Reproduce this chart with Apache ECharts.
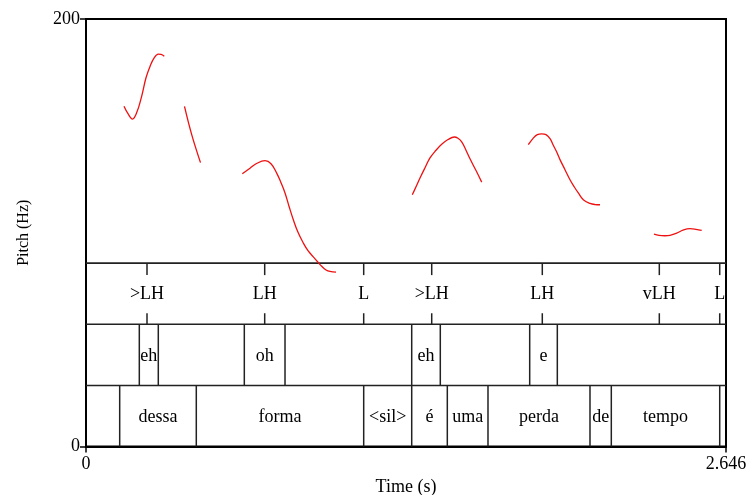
<!DOCTYPE html>
<html>
<head>
<meta charset="utf-8">
<script src="https://cdn.jsdelivr.net/npm/echarts@6/dist/echarts.min.js"></script>
<style>
html,body{margin:0;padding:0;background:#fff;}
#chart{width:748px;height:495px;}
</style>
</head>
<body>
<div id="chart"></div>
<script>
// ---- Axis ranges ----
const timeMax = 2.646;
const pitchMax = 200;
const xTickLabels = ['0', '2.646'];
const yTickLabels = ['0', '200'];

// ---- Pitch contour segments [time (s), pitch (Hz)] ----
const pitchSeg1 = [[0.1571,159.2],[0.1736,155.7],[0.1922,153.2],[0.2109,156.6],[0.2295,163.6],[0.2481,172.5],[0.2646,177.8],[0.2811,181.7],[0.2989,183.6],[0.3101,183.5],[0.3237,182.6]];
const pitchSeg2 = [[0.4072,159.1],[0.4370,145.9],[0.4734,132.8]];
const pitchSeg3 = [[0.6462,127.6],[0.6780,130.2],[0.7070,132.5],[0.7401,133.7],[0.7649,132.3],[0.7884,127.9],[0.8062,123.4],[0.8228,118.6],[0.8393,112.4],[0.8571,106.1],[0.8765,100.2],[0.8984,95.2],[0.9178,91.6],[0.9398,88.7],[0.9592,86.2],[0.9745,84.3],[0.9923,82.6],[1.0088,81.9],[1.0336,81.6]];
const pitchSeg4 = [[1.3491,117.8],[1.3644,121.5],[1.3809,125.6],[1.4016,130.4],[1.4222,135.0],[1.4470,138.6],[1.4706,141.4],[1.4967,143.6],[1.5227,144.8],[1.5380,144.2],[1.5533,142.5],[1.5711,138.6],[1.5876,134.6],[1.6125,129.1],[1.6360,123.7]];
const pitchSeg5 = [[1.8287,141.2],[1.8493,144.3],[1.8659,145.9],[1.8841,146.3],[1.9018,145.9],[1.9184,144.0],[1.9321,140.9],[1.9461,137.8],[1.9597,134.2],[1.9804,129.5],[2.0010,124.8],[2.0189,121.4],[2.0354,118.6],[2.0561,115.4],[2.0837,113.7],[2.1044,113.2],[2.1251,113.1]];
const pitchSeg6 = [[2.3483,99.4],[2.3690,98.8],[2.3938,98.6],[2.4145,98.8],[2.4422,99.8],[2.4682,101.2],[2.4972,101.9],[2.5220,101.6],[2.5455,101.1]];
const pitchSegments = [pitchSeg1, pitchSeg2, pitchSeg3, pitchSeg4, pitchSeg5, pitchSeg6];

// ---- TextGrid tiers ----
// tier band edges on the pitch axis (bottom of tier 3 .. top of tier 1)
const tierEdges = [0, 28.55, 57.2, 85.8];

// Tier 1: point tier (tones)
const toneTimes = [0.2522, 0.7388, 1.1481, 1.4293, 1.8865, 2.3703, 2.6200];
const toneLabels = ['>LH', 'LH', 'L', '>LH', 'LH', 'vLH', 'L'];

// Tier 2: interval tier
const tier2Bounds = [0.2204, 0.2989, 0.6545, 0.8228, 1.3466, 1.4648, 1.8344, 1.9486];
const tier2Labels = ['', 'eh', '', 'oh', '', 'eh', '', 'e', ''];

// Tier 3: interval tier (words)
const tier3Bounds = [0.1393, 0.4560, 1.1481, 1.3466, 1.4938, 1.6620, 2.0837, 2.1718, 2.6200];
const tier3Labels = ['', 'dessa', 'forma', '<sil>', 'é', 'uma', 'perda', 'de', 'tempo', ''];

// ---- build helpers ----
const FONT = '"Liberation Serif", "Times New Roman", serif';
const LINE_COLOR = '#222';
const TIER_FONT = '18px ' + FONT;

function intervals(bounds, labels) {
  const edges = [0].concat(bounds, [timeMax]);
  const out = [];
  for (let i = 0; i < labels.length; i++) {
    if (labels[i] !== '') out.push([edges[i], edges[i + 1], labels[i]]);
  }
  return out;
}

const series = [];

// horizontal tier separators
series.push({
  type: 'custom',
  clip: false,
  silent: true,
  data: tierEdges.slice(1).map(v => [v]),
  renderItem: function (params, api) {
    const y = api.value(0);
    const a = api.coord([0, y]);
    const b = api.coord([timeMax, y]);
    return { type: 'line', shape: { x1: a[0], y1: a[1], x2: b[0], y2: b[1] },
      style: { stroke: LINE_COLOR, lineWidth: 1.6 } };
  },
  z: 3
});

// point tier ticks + labels
series.push({
  type: 'custom',
  clip: false,
  silent: true,
  data: toneTimes.map((t, i) => [t, toneLabels[i]]),
  renderItem: function (params, api) {
    const t = api.value(0);
    const top = api.coord([t, tierEdges[3]]);
    const bot = api.coord([t, tierEdges[2]]);
    const midY = (top[1] + bot[1]) / 2;
    return { type: 'group', children: [
      { type: 'line', shape: { x1: top[0], y1: top[1], x2: top[0], y2: top[1] + 12 }, style: { stroke: LINE_COLOR, lineWidth: 1.5 } },
      { type: 'line', shape: { x1: bot[0], y1: bot[1], x2: bot[0], y2: bot[1] - 11 }, style: { stroke: LINE_COLOR, lineWidth: 1.5 } },
      { type: 'text', style: { x: top[0], y: midY + 1, text: toneLabels[params.dataIndex], fill: '#000', font: TIER_FONT, textAlign: 'center', textVerticalAlign: 'middle' } }
    ] };
  },
  z: 4
});

function boundarySeries(bounds, lo, hi) {
  return {
    type: 'custom', clip: false, silent: true,
    data: bounds.map(t => [t]),
    renderItem: function (params, api) {
      const t = api.value(0);
      const a = api.coord([t, lo]);
      const b = api.coord([t, hi]);
      return { type: 'line', shape: { x1: a[0], y1: a[1], x2: b[0], y2: b[1] }, style: { stroke: LINE_COLOR, lineWidth: 1.5 } };
    },
    z: 3
  };
}
function labelSeries(bounds, labels, lo, hi) {
  const iv = intervals(bounds, labels);
  return {
    type: 'custom', clip: false, silent: true,
    data: iv.map(d => [d[0], d[1]]),
    renderItem: function (params, api) {
      const a = api.coord([api.value(0), hi]);
      const b = api.coord([api.value(1), lo]);
      return { type: 'text', style: { x: (a[0] + b[0]) / 2, y: (a[1] + b[1]) / 2 + 1, text: iv[params.dataIndex][2], fill: '#000', font: TIER_FONT, textAlign: 'center', textVerticalAlign: 'middle' } };
    },
    z: 4
  };
}
series.push(boundarySeries(tier2Bounds, tierEdges[1], tierEdges[2]));
series.push(labelSeries(tier2Bounds, tier2Labels, tierEdges[1], tierEdges[2]));
series.push(boundarySeries(tier3Bounds, tierEdges[0], tierEdges[1]));
series.push(labelSeries(tier3Bounds, tier3Labels, tierEdges[0], tierEdges[1]));

// pitch contour
pitchSegments.forEach(seg => {
  series.push({
    type: 'line', data: seg, smooth: 0.4, showSymbol: false, silent: true, clip: false,
    lineStyle: { color: '#ee1111', width: 1.3 }, z: 5
  });
});

const chart = echarts.init(document.getElementById('chart'), null, { renderer: 'canvas' });
chart.setOption({
  animation: false,
  backgroundColor: '#fff',
  grid: { left: 86, top: 19, width: 640, height: 427.5, show: true, borderColor: '#000', borderWidth: 2,
    containLabel: false, outerBoundsMode: 'none' },
  xAxis: {
    type: 'value', min: 0, max: timeMax, interval: timeMax,
    name: 'Time (s)', nameLocation: 'middle', nameGap: 30,
    nameTextStyle: { color: '#000', fontSize: 18, fontFamily: FONT },
    axisLine: { show: true, lineStyle: { color: '#000', width: 2 } },
    axisTick: { show: true, length: 6, lineStyle: { color: '#000', width: 1.5 } },
    axisLabel: { color: '#000', fontSize: 18, fontFamily: FONT, margin: 9, showMinLabel: true, showMaxLabel: true,
      formatter: v => (Math.abs(v) < 1e-9 ? xTickLabels[0] : xTickLabels[1]) },
    splitLine: { show: false }
  },
  yAxis: {
    type: 'value', min: 0, max: pitchMax, interval: pitchMax,
    name: 'Pitch (Hz)', nameLocation: 'middle', nameGap: 54, nameRotate: 90,
    nameTextStyle: { color: '#000', fontSize: 16, fontFamily: FONT },
    axisLine: { show: true, lineStyle: { color: '#000', width: 2 } },
    axisTick: { show: true, length: 6, lineStyle: { color: '#000', width: 1.5 } },
    axisLabel: { color: '#000', fontSize: 18, fontFamily: FONT, margin: 6,
      formatter: v => (v === 0 ? yTickLabels[0] : yTickLabels[1]) },
    splitLine: { show: false }
  },
  series: series
});
</script>
</body>
</html>
